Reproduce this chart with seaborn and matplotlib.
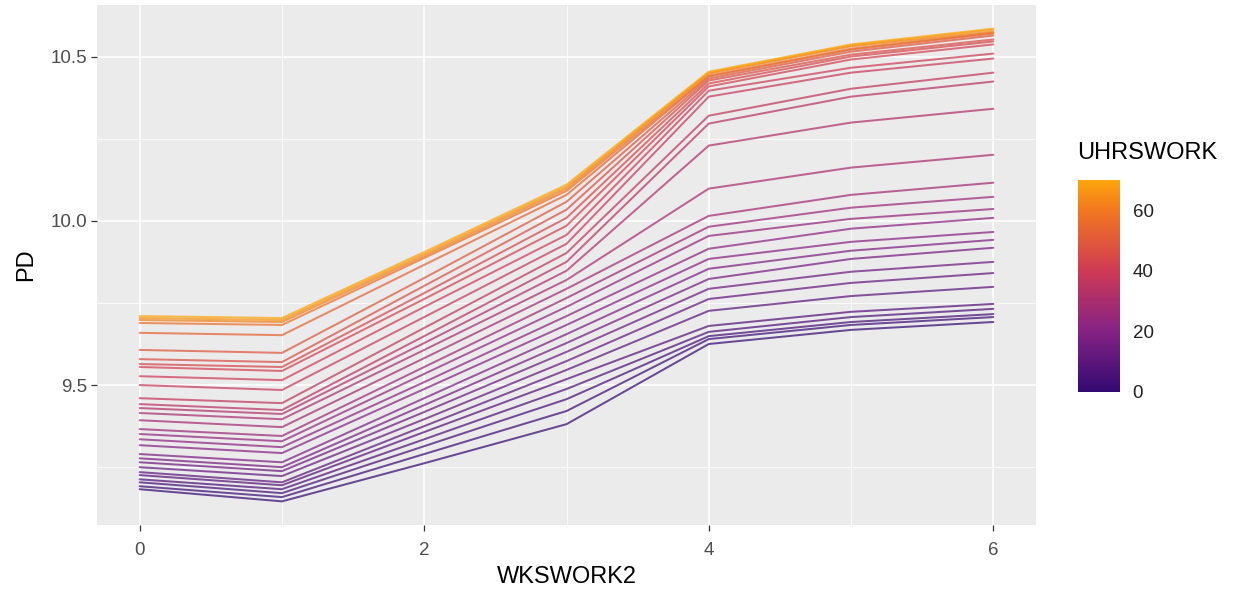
import numpy as np
import pandas as pd
import matplotlib
matplotlib.use("Agg")
import matplotlib.pyplot as plt
from matplotlib.colors import LinearSegmentedColormap, Normalize
from matplotlib.cm import ScalarMappable
import seaborn as sns

# Partial dependence of PD on WKSWORK2, one curve per UHRSWORK grid value
wkswork2 = [0, 1, 2, 3, 4, 5, 6]
uhrswork = [0, 2, 4, 6, 8, 10, 12, 14, 16, 18, 20, 22, 24, 26, 28,
            30, 32, 34, 36, 38, 40, 42, 44, 46, 49, 53, 57, 62, 66, 70]

pd_w0 = [9.183, 9.192, 9.204, 9.213, 9.226, 9.235, 9.250, 9.265, 9.277, 9.290,
         9.317, 9.335, 9.351, 9.366, 9.393, 9.415, 9.430, 9.442, 9.460, 9.500,
         9.527, 9.555, 9.564, 9.579, 9.607, 9.659, 9.689, 9.698, 9.704, 9.710]
pd_w1 = [9.146, 9.159, 9.171, 9.183, 9.195, 9.204, 9.223, 9.238, 9.250, 9.265,
         9.293, 9.311, 9.329, 9.345, 9.372, 9.396, 9.412, 9.424, 9.445, 9.485,
         9.515, 9.543, 9.555, 9.570, 9.598, 9.652, 9.683, 9.692, 9.698, 9.704]
pd_w2 = [9.262, 9.290, 9.314, 9.335, 9.357, 9.375, 9.396, 9.418, 9.439, 9.460,
         9.488, 9.509, 9.534, 9.555, 9.582, 9.607, 9.628, 9.649, 9.674, 9.707,
         9.738, 9.762, 9.780, 9.802, 9.826, 9.866, 9.887, 9.893, 9.899, 9.905]
pd_w3 = [9.381, 9.421, 9.457, 9.488, 9.518, 9.546, 9.573, 9.601, 9.628, 9.655,
         9.683, 9.710, 9.738, 9.765, 9.793, 9.820, 9.848, 9.875, 9.902, 9.930,
         9.957, 9.985, 10.009, 10.034, 10.058, 10.079, 10.091, 10.098, 10.104, 10.110]
pd_w4 = [9.625, 9.640, 9.649, 9.662, 9.680, 9.726, 9.762, 9.793, 9.823, 9.854,
         9.884, 9.915, 9.954, 9.982, 10.015, 10.098, 10.229, 10.296, 10.320, 10.378,
         10.396, 10.409, 10.418, 10.427, 10.433, 10.439, 10.442, 10.448, 10.451, 10.454]
pd_w5 = [9.668, 9.683, 9.692, 9.707, 9.723, 9.771, 9.811, 9.845, 9.884, 9.909,
         9.936, 9.976, 10.006, 10.040, 10.079, 10.162, 10.299, 10.378, 10.402, 10.451,
         10.466, 10.491, 10.500, 10.506, 10.515, 10.521, 10.524, 10.531, 10.534, 10.537]
pd_w6 = [9.692, 9.707, 9.716, 9.732, 9.747, 9.799, 9.841, 9.875, 9.918, 9.942,
         9.966, 10.009, 10.036, 10.073, 10.116, 10.201, 10.341, 10.424, 10.451, 10.494,
         10.509, 10.537, 10.546, 10.552, 10.564, 10.570, 10.573, 10.576, 10.582, 10.585]

x_ticks = [0, 2, 4, 6]
y_ticks = [9.5, 10.0, 10.5]
y_tick_labels = ["9.5", "10.0", "10.5"]
bar_ticks = [0, 20, 40, 60]

# long table: one row per (UHRSWORK, WKSWORK2) pair
columns = [pd_w0, pd_w1, pd_w2, pd_w3, pd_w4, pd_w5, pd_w6]
rows = []
for j, w in enumerate(wkswork2):
    for i, u in enumerate(uhrswork):
        rows.append({"WKSWORK2": w, "UHRSWORK": u, "PD": columns[j][i]})
df = pd.DataFrame(rows)

sns.set_theme(style="darkgrid")
plt.rcParams["font.family"] = ["Liberation Sans", "DejaVu Sans"]

# dark indigo -> crimson -> orange gradient
cmap = LinearSegmentedColormap.from_list(
    "hours",
    [(0.00, "#330A72"), (0.29, "#862284"), (0.57, "#CE3A56"),
     (0.86, "#F2781F"), (1.00, "#FCA50C")])
norm = Normalize(vmin=0, vmax=70)

W, H = 1250, 597
fig = plt.figure(figsize=(W / 100, H / 100), dpi=100)
ax = fig.add_axes([97 / W, 1 - 525 / H, (1036 - 97) / W, 520 / H])

sns.lineplot(data=df, x="WKSWORK2", y="PD", hue="UHRSWORK", units="UHRSWORK",
             estimator=None, palette=cmap, hue_norm=norm, legend=False,
             linewidth=1.45, alpha=0.72, ax=ax)

# ggplot-like panel
ax.set_facecolor("#EBEBEB")
for s in ax.spines.values():
    s.set_visible(False)
ymin, ymax = df["PD"].min(), df["PD"].max()
yr = ymax - ymin
ax.set_xlim(-0.3, 6.3)
ax.set_ylim(ymin - 0.05 * yr, ymax + 0.05 * yr)
ax.set_xticks(x_ticks)
ax.set_xticklabels([str(t) for t in x_ticks])
ax.set_yticks(y_ticks)
ax.set_yticklabels(y_tick_labels)
ax.set_xticks([1, 3, 5], minor=True)
ax.set_yticks([9.25, 9.75, 10.25], minor=True)
ax.grid(which="major", color="white", linewidth=1.1)
ax.grid(which="minor", color="white", linewidth=0.55)
ax.set_axisbelow(True)
ax.tick_params(which="major", length=4, width=0.9, color="#333333",
               labelcolor="#4D4D4D", labelsize=13.5, bottom=True, left=True)
ax.tick_params(axis="x", which="major", pad=8)
ax.tick_params(axis="y", which="major", pad=3)
ax.tick_params(which="minor", length=0)
ax.set_xlabel("WKSWORK2", fontsize=17, color="black", labelpad=5)
ax.set_ylabel("PD", fontsize=17, color="black", labelpad=10)

# colourbar legend
cax = fig.add_axes([1078 / W, 1 - 392 / H, 42 / W, 212 / H])
sm = ScalarMappable(norm=norm, cmap=cmap)
cb = fig.colorbar(sm, cax=cax, ticks=bar_ticks)
cb.outline.set_visible(False)
cax.tick_params(axis="y", direction="in", length=7, width=1.2, color="white",
                left=True, right=True, labelleft=False, labelright=True,
                labelsize=13.5, labelcolor="#222222", pad=9)
cax.set_yticklabels([str(t) for t in bar_ticks])
fig.text(1077 / W, 1 - 153 / H, "UHRSWORK", fontsize=17, color="black",
         ha="left", va="center")

fig.savefig("out.png", dpi=100)
